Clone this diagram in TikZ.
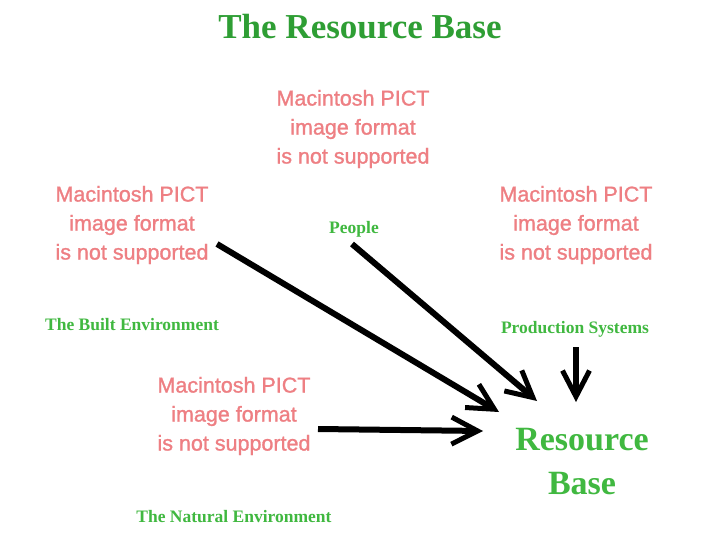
\documentclass[tikz,border=0pt]{standalone}
\usepackage{fontspec}
\setmainfont{Liberation Serif}
\newfontfamily\pictfont[FakeBold=1.2]{Liberation Sans}
\usetikzlibrary{arrows.meta,positioning,calc}
\definecolor{ResDarkGreen}{HTML}{2E9E34}
\definecolor{ResGreen}{HTML}{40B840}
\definecolor{PictRed}{HTML}{EE7F83}

\begin{document}
\begin{tikzpicture}[x=1pt,y=-1pt,
    pict/.style={text=PictRed,align=center,inner sep=0pt,font=\pictfont\fontsize{21.5}{29}\selectfont},
    lbl/.style={text=ResGreen,inner sep=0pt,font=\bfseries\fontsize{17.5}{20}\selectfont},
    arr/.style={-{Straight Barb[length=26pt,width=27pt,line width=5pt]},line width=6pt,black}
  ]
    \useasboundingbox[fill=white] (0,0) rectangle (720,540);
    \node[text=ResDarkGreen,font=\bfseries\fontsize{35}{40}\selectfont] (title) at (360,27) {The Resource Base};

    \node[pict] (pictT) at (353,129) {Macintosh PICT\\image format\\is not supported};
    \node[pict] (pictL) at (132,225) {Macintosh PICT\\image format\\is not supported};
    \node[pict] (pictR) at (576,225) {Macintosh PICT\\image format\\is not supported};
    \node[pict] (pictB) at (234,416) {Macintosh PICT\\image format\\is not supported};

    \node[lbl] (people) at (354,229) {People};
    \node[lbl] (built) at (132,325) {The Built Environment};
    \node[lbl] (prod) at (575,329) {Production Systems};
    \node[lbl] (natural) at (234,517) {The Natural Environment};
    \node[lbl,align=center,font=\bfseries\fontsize{34}{44}\selectfont] (rb) at (582,462) {Resource\\Base};

    % arrow ends
    \coordinate (fromBuilt) at (217,244);
    \coordinate (fromPeople) at (352,244);
    \coordinate (fromProd) at (576,347);
    \coordinate (fromNatural) at (318,429);
    \coordinate (toBuilt) at (499,412);
    \coordinate (toPeople) at (537,401);
    \coordinate (toProd) at (576,402);
    \coordinate (toNatural) at (483,431);

    \draw[arr] (fromBuilt) -- (toBuilt);
    \draw[arr] (fromPeople) -- (toPeople);
    \draw[arr] (fromProd) -- (toProd);
    \draw[arr] (fromNatural) -- (toNatural);
  \end{tikzpicture}
\end{document}
